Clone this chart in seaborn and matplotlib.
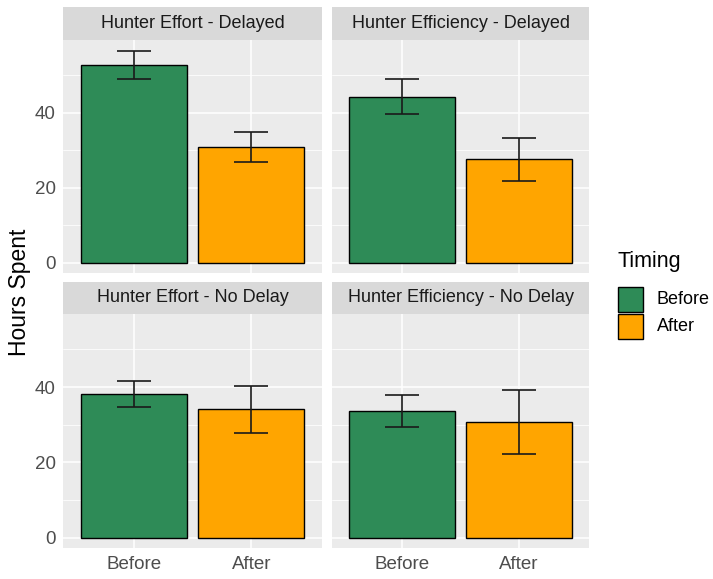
import numpy as np
import pandas as pd
import seaborn as sns
import matplotlib.pyplot as plt
from matplotlib.patches import Rectangle
from matplotlib.ticker import FixedLocator

panels = ["Hunter Effort - Delayed", "Hunter Efficiency - Delayed",
          "Hunter Effort - No Delay", "Hunter Efficiency - No Delay"]
timing = ["Before", "After"]
before_mean = [52.8, 44.3, 38.1, 33.7]
after_mean = [30.9, 27.6, 34.1, 30.7]
before_err = [3.8, 4.6, 3.5, 4.3]
after_err = [4.0, 5.7, 6.2, 8.6]
colors = {"Before": "#2E8B57", "After": "#FFA500"}

rows = []
for i, p in enumerate(panels):
    rows.append((p, "Before", before_mean[i], before_err[i]))
    rows.append((p, "After", after_mean[i], after_err[i]))
df = pd.DataFrame(rows, columns=["Panel", "Timing", "Hours", "SE"])

sns.set_style("darkgrid", {"axes.facecolor": "#EBEBEB", "grid.color": "white"})
plt.rcParams["font.family"] = ["Liberation Sans", "DejaVu Sans"]

W, H = 713, 579
fig = plt.figure(figsize=(W / 100, H / 100), dpi=100)
fig.patch.set_facecolor("white")

# panel boxes in pixels: left, top, right, bottom
boxes = [(63.3, 40, 321.7, 273.3), (331.7, 40, 589.3, 273.3),
         (63.3, 314, 321.7, 548.3), (331.7, 314, 589.3, 548.3)]
strip_px = 32.5

top = (df["Hours"] + df["SE"]).max()
ylo, yhi = -0.05 * top, 1.05 * top

for i, p in enumerate(panels):
    l, t, r, b = boxes[i]
    ax = fig.add_axes([l / W, 1 - b / H, (r - l) / W, (b - t) / H])
    sub = df[df["Panel"] == p]
    sns.barplot(data=sub, x="Timing", y="Hours", hue="Timing", order=timing,
                hue_order=timing, palette=colors, saturation=1, width=0.9,
                edgecolor="black", linewidth=1.0, errorbar=None, legend=False,
                ax=ax)
    sub = sub.set_index("Timing").loc[timing]
    ax.errorbar(x=np.arange(len(timing)), y=sub["Hours"], yerr=sub["SE"],
                fmt="none", ecolor="#1A1A1A", elinewidth=1.2, capsize=12,
                capthick=1.2, zorder=5)
    ax.set_xlim(-0.6, 1.6)
    ax.set_ylim(ylo, yhi)
    ax.set_yticks([0, 20, 40])
    ax.yaxis.set_minor_locator(FixedLocator([10, 30, 50]))
    ax.grid(which="major", color="white", lw=1.1)
    ax.grid(which="minor", color="white", lw=0.55)
    ax.set_axisbelow(True)
    for s in ax.spines.values():
        s.set_visible(False)
    ax.set_xlabel("")
    ax.set_ylabel("")
    ax.tick_params(which="minor", length=0)
    ax.tick_params(which="major", length=3.5, width=0.8, color="#333333",
                   labelcolor="#4D4D4D", labelsize=13.5, pad=2)
    if i % 2 == 1:
        ax.tick_params(axis="y", length=0, labelleft=False)
    if i < 2:
        ax.tick_params(axis="x", length=0, labelbottom=False)

    sh = strip_px / (b - t)
    ax.add_patch(Rectangle((0, 1), 1, sh, transform=ax.transAxes,
                           clip_on=False, facecolor="#D9D9D9", edgecolor="none"))
    ax.text(0.5, 1 + sh / 2, p, transform=ax.transAxes, ha="center",
            va="center", fontsize=13, color="#1A1A1A")

fig.text(20 / W, 1 - 292 / H, "Hours Spent", rotation=90, ha="center",
         va="center", fontsize=16.5, color="black")

# legend drawn by hand so the keys sit where ggplot puts them
fig.text(617 / W, 1 - 262 / H, "Timing", ha="left", va="center",
         fontsize=15.5, color="black")
for k, name in enumerate(timing):
    ytop = 287 + k * 27
    fig.add_artist(Rectangle((618 / W, 1 - (ytop + 24.5) / H), 25 / W, 24.5 / H,
                             transform=fig.transFigure, facecolor=colors[name],
                             edgecolor="black", linewidth=1.0))
    fig.text(657 / W, 1 - (ytop + 12.5) / H, name, ha="left", va="center",
             fontsize=13, color="black")

fig.savefig("out.png", dpi=100)
